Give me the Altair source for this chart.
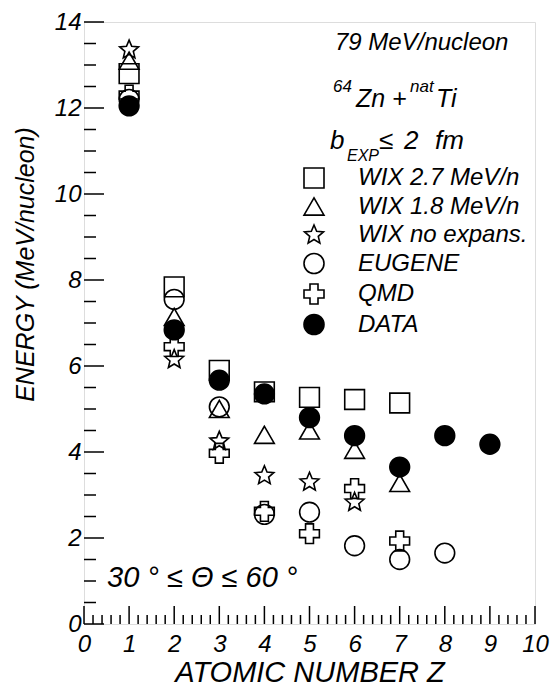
import altair as alt
import pandas as pd

# ---------------- data ----------------
SERIES = ["WIX 2.7 MeV/n", "WIX 1.8 MeV/n", "WIX no expans.", "EUGENE", "QMD", "DATA"]

wix27_z = [1, 2, 3, 4, 5, 6, 7]
wix27_e = [12.80, 7.84, 5.90, 5.40, 5.27, 5.22, 5.14]

wix18_z = [1, 2, 3, 4, 5, 6, 7]
wix18_e = [13.10, 7.14, 5.00, 4.40, 4.50, 4.05, 3.28]

wixno_z = [1, 2, 3, 4, 5, 6]
wixno_e = [13.35, 6.15, 4.25, 3.45, 3.30, 2.83]

eugene_z = [1, 2, 3, 4, 5, 6, 7, 8]
eugene_e = [12.20, 7.55, 5.05, 2.55, 2.60, 1.82, 1.50, 1.65]

qmd_z = [1, 2, 3, 4, 5, 6, 7]
qmd_e = [12.30, 6.45, 3.97, 2.62, 2.10, 3.15, 1.93]

data_z = [1, 2, 3, 4, 5, 6, 7, 8, 9]
data_e = [12.05, 6.84, 5.67, 5.35, 4.80, 4.38, 3.65, 4.38, 4.18]

x_labels = [0, 1, 2, 3, 4, 5, 6, 7, 8, 9, 10]
y_labels = [0, 2, 4, 6, 8, 10, 12, 14]

# ---------------- styling ----------------
FONT = "Liberation Sans"
STAR = ("M0,-1L0.265,-0.364L0.951,-0.309L0.428,0.139L0.588,0.809"
        "L0,0.45L-0.588,0.809L-0.428,0.139L-0.951,-0.309L-0.265,-0.364Z")
SHAPES = ["square", "triangle-up", STAR, "circle", "cross", "circle"]
FILLS = ["transparent", "transparent", "transparent", "transparent", "transparent", "black"]
STROKES = ["black"] * 6

W, H = 451, 602

rows = []
for name, zs, es in [
    (SERIES[0], wix27_z, wix27_e),
    (SERIES[1], wix18_z, wix18_e),
    (SERIES[2], wixno_z, wixno_e),
    (SERIES[3], eugene_z, eugene_e),
    (SERIES[4], qmd_z, qmd_e),
    (SERIES[5], data_z, data_e),
]:
    for z, e in zip(zs, es):
        rows.append({"series": name, "Z": z, "E": e})
df = pd.DataFrame(rows)

xscale = alt.Scale(domain=[0, 10], nice=False, zero=False)
yscale = alt.Scale(domain=[0, 14], nice=False, zero=False)

xaxis = alt.Axis(
    values=x_labels,
    format="d",
    title="ATOMIC NUMBER  Z",
    titleFont=FONT,
    titleFontStyle="italic",
    titleFontWeight="normal",
    titleFontSize=29,
    titleColor="black",
    titleBaseline="alphabetic",
    titleY=57,
    labelFont=FONT,
    labelFontStyle="italic",
    labelFontSize=24,
    labelColor="black",
    labelPadding=8,
    labelFlush=False,
    labelOverlap=False,
    ticks=False,
    tickSize=0,
    domain=False,
    grid=False,
)

yaxis = alt.Axis(
    values=y_labels,
    format="d",
    title="ENERGY  (MeV/nucleon)",
    titleFont=FONT,
    titleFontStyle="italic",
    titleFontWeight="normal",
    titleFontSize=25,
    titleColor="black",
    titleAngle=270,
    titleBaseline="alphabetic",
    titleAlign="center",
    titleX=-51,
    titleY=242,
    labelFont=FONT,
    labelFontStyle="italic",
    labelFontSize=24,
    labelColor="black",
    labelPadding=3,
    labelFlush=False,
    labelOverlap=False,
    ticks=False,
    tickSize=0,
    domain=False,
    grid=False,
)

legend = alt.Legend(
    title=None,
    orient="none",
    legendX=218,
    legendY=144,
    padding=0,
    labelFont=FONT,
    labelFontStyle="italic",
    labelFontSize=24,
    labelColor="black",
    labelLimit=400,
    labelOffset=32,
    rowPadding=2.5,
    symbolSize=400,
    symbolStrokeColor="black",
    symbolStrokeWidth=1.6,
    symbolOpacity=1,
)

points = alt.Chart(df).mark_point(
    filled=True, size=390, stroke="black", strokeWidth=1.6, opacity=1
).encode(
    x=alt.X("Z:Q", scale=xscale, axis=xaxis),
    y=alt.Y("E:Q", scale=yscale, axis=yaxis),
    shape=alt.Shape("series:N", scale=alt.Scale(domain=SERIES, range=SHAPES), legend=legend),
    fill=alt.Fill("series:N", scale=alt.Scale(domain=SERIES, range=FILLS), legend=legend),
    stroke=alt.Stroke("series:N", scale=alt.Scale(domain=SERIES, range=STROKES), legend=legend),
)

# ---------------- inward ticks ----------------
y_minor = [v / 2 for v in range(1, 28) if v % 4 != 0]
x_minor = [v / 5 for v in range(1, 50) if v % 5 != 0]


def yticks(vals, length):
    return alt.Chart(pd.DataFrame({"E": vals})).mark_rule(color="black", strokeWidth=1.5).encode(
        y=alt.Y("E:Q", scale=yscale, axis=yaxis),
        x=alt.value(0),
        x2=alt.value(length),
    )


def xticks(vals, length):
    return alt.Chart(pd.DataFrame({"Z": vals})).mark_rule(color="black", strokeWidth=1.5).encode(
        x=alt.X("Z:Q", scale=xscale, axis=xaxis),
        y=alt.value(H),
        y2=alt.value(H - length),
    )


# ---------------- annotations (plot-relative pixels) ----------------
def note(text, x, y, size, align="left"):
    return alt.Chart(pd.DataFrame({"t": [text]})).mark_text(
        font=FONT, fontStyle="italic", fontSize=size, color="black",
        align=align, baseline="alphabetic",
    ).encode(text="t:N", x=alt.value(x), y=alt.value(y))


notes = [
    note("79 MeV/nucleon", 251, 28, 24),
    note("64", 249, 70, 17),
    note("Zn +", 272, 85, 25),
    note("nat", 326, 70, 17),
    note("Ti", 352, 85, 25),
    note("b", 246, 127, 26),
    note("EXP", 263, 139, 16),
    note("\u2264", 295, 127, 26),
    note("2", 320, 127, 26),
    note("fm", 351, 127, 26),
    note("30 \u00b0 \u2264 \u0398 \u2264 60 \u00b0", 23, 565, 29),
]

chart = alt.layer(
    points,
    yticks(y_labels, 20),
    yticks(y_minor, 12),
    xticks(x_labels, 18),
    xticks(x_minor, 9),
    *notes,
).properties(
    width=W,
    height=H,
    autosize=alt.AutoSizeParams(type="none"),
    padding={"left": 84, "top": 22, "right": 17, "bottom": 63},
).configure_view(
    stroke="black", strokeWidth=1.6
).configure(
    background="white"
)

chart.save("out.html", embed_options={"renderer": "svg", "actions": False})
